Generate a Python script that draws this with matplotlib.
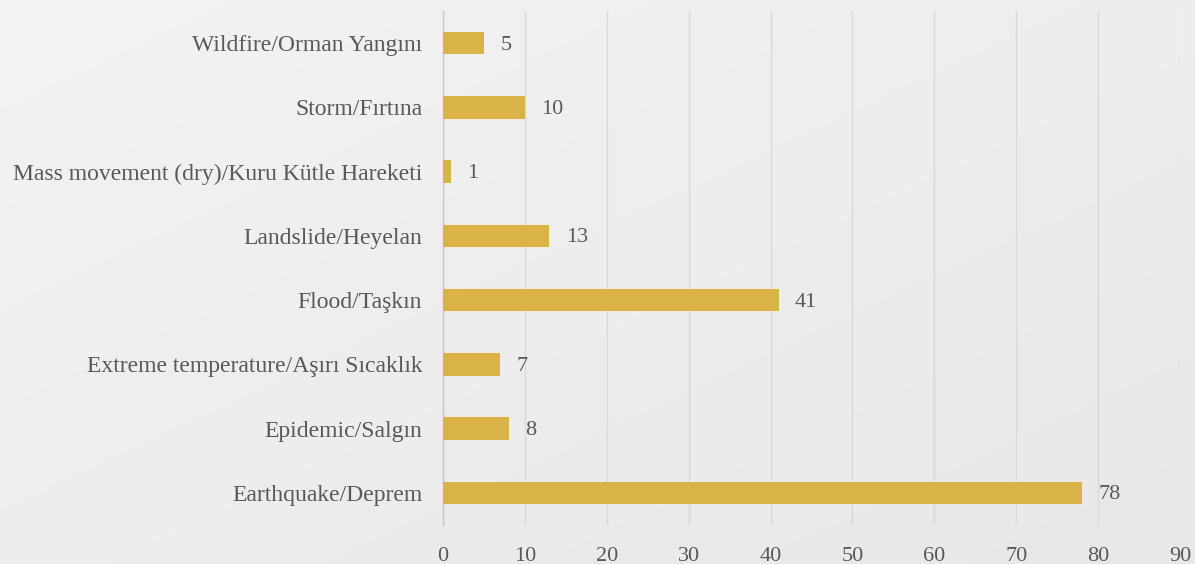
import numpy as np
import matplotlib as mpl
mpl.use('Agg')
import matplotlib.pyplot as plt

# categories, bottom to top
categories = ["Earthquake/Deprem", "Epidemic/Salgın", "Extreme temperature/Aşırı Sıcaklık",
              "Flood/Taşkın", "Landslide/Heyelan", "Mass movement (dry)/Kuru Kütle Hareketi",
              "Storm/Fırtına", "Wildfire/Orman Yangını"]
counts = [78, 8, 7, 41, 13, 1, 10, 5]
xticks = [0, 10, 20, 30, 40, 50, 60, 70, 80, 90]

plt.rcParams['font.family'] = ['Liberation Serif', 'DejaVu Serif']
txt = '#595959'

fig = plt.figure(figsize=(11.95, 5.64), dpi=100)

# light paper-like background, a bit darker to the lower right
bg = fig.add_axes([0, 0, 1, 1], zorder=-1)
gx, gy = np.meshgrid(np.linspace(0, 1, 200), np.linspace(0, 1, 100))
bg.imshow(0.5 * gx + 0.5 * gy, cmap=mpl.colors.LinearSegmentedColormap.from_list('p', ['#f3f3f3', '#e8e8e8']),
          aspect='auto', extent=[0, 1, 0, 1], origin='upper')
bg.axis('off')

ax = fig.add_axes([443 / 1195, 1 - 525 / 564, (1180 - 443) / 1195, (525 - 11) / 564])
ax.patch.set_alpha(0)

y = np.arange(len(categories))
ax.barh(y, counts, height=0.35, color='#d9b248', zorder=3)
for yi, v in zip(y, counts):
    ax.text(v + 2.0, yi - 0.03, str(v), va='center', ha='left', fontsize=16, color=txt)

ax.set_xlim(0, 90)
ax.set_ylim(-0.5, len(categories) - 0.5)
ax.set_xticks(xticks)
ax.set_yticks(y)
ax.set_yticklabels(categories)
ax.grid(axis='x', color='#d9d9d9', linewidth=1, zorder=0)
for s in ['top', 'right', 'bottom']:
    ax.spines[s].set_visible(False)
ax.spines['left'].set_color('#c8c8c8')
ax.spines['left'].set_linewidth(1)
ax.tick_params(length=0, colors=txt, labelsize=16)
ax.tick_params(axis='y', pad=15, labelsize=17)
ax.tick_params(axis='x', pad=16)

fig.savefig('out.png', dpi=100)
